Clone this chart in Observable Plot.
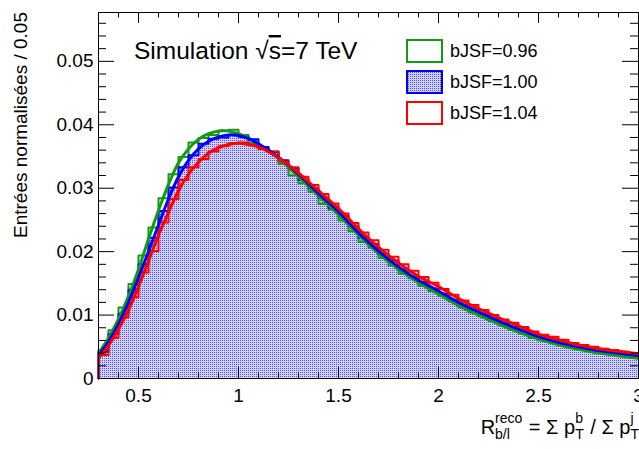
<!DOCTYPE html>
<html><head><meta charset="utf-8">
<script src="https://cdn.jsdelivr.net/npm/d3@7"></script>
<script src="https://cdn.jsdelivr.net/npm/@observablehq/plot@0.6"></script>
<style>
body{margin:0;background:#fff}
svg{display:block}
</style>
</head><body><div id="chart"></div>
<script>
// ---------------- data ----------------
const xRange = [0.3, 3.0];
const binWidth = 0.05;
const seriesNames = ["bJSF=0.96", "bJSF=1.00", "bJSF=1.04"];
const seriesColors = ["#129a12", "#0000ff", "#ff0000"];

// histogram contents, bins of 0.05 from 0.30 to 3.00
const hist096 = [0.0045,0.0076,0.0112,0.0149,0.0194,0.0238,0.0284,0.0322,0.0349,0.0372,
  0.0379,0.0384,0.0391,0.0392,0.0384,0.0371,0.0364,0.0358,0.0338,0.0320,
  0.0308,0.0294,0.0275,0.0266,0.0249,0.0232,0.0215,0.0206,0.0190,0.0178,
  0.0165,0.0158,0.0146,0.0138,0.0130,0.0122,0.0112,0.0104,0.0098,0.0091,
  0.0084,0.0077,0.0071,0.0064,0.0060,0.0057,0.0053,0.0048,0.0046,0.0042,
  0.0040,0.0038,0.0035,0.0033];
const hist100 = [0.0042,0.0070,0.0102,0.0140,0.0180,0.0222,0.0264,0.0301,0.0333,0.0352,
  0.0370,0.0378,0.0380,0.0384,0.0381,0.0377,0.0365,0.0357,0.0344,0.0331,
  0.0313,0.0300,0.0285,0.0269,0.0256,0.0240,0.0222,0.0212,0.0196,0.0186,
  0.0172,0.0161,0.0152,0.0142,0.0134,0.0124,0.0115,0.0108,0.0101,0.0094,
  0.0087,0.0081,0.0075,0.0068,0.0064,0.0060,0.0056,0.0052,0.0049,0.0046,
  0.0043,0.0041,0.0038,0.0036];
const hist104 = [0.0037,0.0064,0.0096,0.0128,0.0167,0.0201,0.0246,0.0283,0.0313,0.0333,
  0.0346,0.0358,0.0366,0.0371,0.0372,0.0368,0.0362,0.0358,0.0342,0.0333,
  0.0318,0.0305,0.0291,0.0276,0.0260,0.0245,0.0230,0.0218,0.0203,0.0192,
  0.0180,0.0170,0.0160,0.0151,0.0141,0.0132,0.0123,0.0116,0.0108,0.0100,
  0.0093,0.0088,0.0081,0.0074,0.0069,0.0066,0.0061,0.0056,0.0053,0.0050,
  0.0047,0.0045,0.0042,0.0040];

// fitted curves, sampled
const fitX = [0.30,0.35,0.40,0.45,0.50,0.55,0.60,0.65,0.70,0.75,0.80,0.85,0.90,0.95,1.00,1.05,1.10,
  1.20,1.30,1.40,1.50,1.60,1.70,1.80,1.90,2.00,2.10,2.20,2.30,2.40,2.50,2.60,2.70,2.80,2.90,3.00];
const fit096 = [0.0040,0.0064,0.0094,0.0130,0.0172,0.0220,0.0265,0.0306,0.0340,0.0362,0.0377,0.0386,0.0390,0.0390,0.0386,0.0379,0.0368,
  0.0347,0.0318,0.0288,0.0258,0.0226,0.0197,0.0172,0.0151,0.0133,0.0115,0.0100,0.0086,0.0073,0.0062,0.0053,0.0046,0.0040,0.0036,0.0032];
const fit100 = [0.0036,0.0058,0.0086,0.0120,0.0159,0.0200,0.0242,0.0283,0.0318,0.0344,0.0362,0.0374,0.0381,0.0384,0.0383,0.0378,0.0370,
  0.0349,0.0322,0.0292,0.0263,0.0230,0.0201,0.0176,0.0155,0.0138,0.0120,0.0105,0.0091,0.0078,0.0066,0.0057,0.0050,0.0044,0.0040,0.0036];
const fit104 = [0.0032,0.0052,0.0078,0.0108,0.0145,0.0185,0.0226,0.0262,0.0296,0.0322,0.0341,0.0355,0.0364,0.0369,0.0371,0.0369,0.0365,
  0.0348,0.0324,0.0296,0.0268,0.0236,0.0207,0.0182,0.0161,0.0145,0.0126,0.0110,0.0096,0.0083,0.0070,0.0061,0.0053,0.0047,0.0043,0.0039];

const xMajorTicks = [0.5, 1, 1.5, 2, 2.5, 3];
const yMajorTicks = [0, 0.01, 0.02, 0.03, 0.04, 0.05];
const yMax = 0.0577;
const yTitle = "Entrées normalisées / 0.05";

// ---------------- layout ----------------
const W = 639, H = 449;
const mL = 98, mR = 1, mT = 12, mB = 71;
const frameH = H - mT - mB;
const font = "'Liberation Sans', Arial, Helvetica, sans-serif";

const xMinorTicks = d3.range(4, 30).map(i => i / 10).filter(v => !xMajorTicks.some(m => Math.abs(m - v) < 1e-9));
const yMinorTicks = d3.range(1, 29).map(i => i * 0.002).filter(v => !yMajorTicks.some(m => Math.abs(m - v) < 1e-9));

function steps(vals) {
  const pts = [{x: xRange[0], y: 0}];
  vals.forEach((v, i) => pts.push({x: xRange[0] + i * binWidth, y: v}));
  pts.push({x: xRange[1], y: vals[vals.length - 1]});
  return pts;
}
const fitPts = arr => arr.map((v, i) => ({x: fitX[i], y: v}));

const hists = [hist096, hist100, hist104].map(steps);
const fits = [fit096, fit100, fit104].map(fitPts);

const chart = Plot.plot({
  width: W, height: H,
  marginLeft: mL, marginRight: mR, marginTop: mT, marginBottom: mB,
  style: {fontFamily: font, background: "white"},
  x: {domain: xRange},
  y: {domain: [0, yMax]},
  marks: [
    Plot.areaY(hists[1], {x: "x", y: "y", curve: "step-after", fill: "url(#dots)"}),
    Plot.line(hists[0], {x: "x", y: "y", curve: "step-after", stroke: seriesColors[0], strokeWidth: 2}),
    Plot.line(hists[1], {x: "x", y: "y", curve: "step-after", stroke: seriesColors[1], strokeWidth: 2}),
    Plot.line(hists[2], {x: "x", y: "y", curve: "step-after", stroke: seriesColors[2], strokeWidth: 2}),
    Plot.line(fits[0], {x: "x", y: "y", curve: "catmull-rom", stroke: seriesColors[0], strokeWidth: 3, clip: true}),
    Plot.line(fits[1], {x: "x", y: "y", curve: "catmull-rom", stroke: seriesColors[1], strokeWidth: 3, clip: true}),
    Plot.line(fits[2], {x: "x", y: "y", curve: "catmull-rom", stroke: seriesColors[2], strokeWidth: 3, clip: true}),
    Plot.frame({stroke: "black", strokeWidth: 1}),
    // inner ticks (ROOT style)
    Plot.tickX(xMajorTicks, {x: d => d, insetTop: frameH - 11, stroke: "black"}),
    Plot.tickX(xMinorTicks, {x: d => d, insetTop: frameH - 5.5, stroke: "black"}),
    Plot.tickX(xMajorTicks, {x: d => d, insetBottom: frameH - 11, stroke: "black"}),
    Plot.tickX(xMinorTicks, {x: d => d, insetBottom: frameH - 5.5, stroke: "black"}),
    Plot.tickY(yMajorTicks, {y: d => d, insetRight: (W - mL - mR) - 16, stroke: "black"}),
    Plot.tickY(yMinorTicks, {y: d => d, insetRight: (W - mL - mR) - 8, stroke: "black"}),
    Plot.tickY(yMajorTicks, {y: d => d, insetLeft: (W - mL - mR) - 16, stroke: "black"}),
    Plot.tickY(yMinorTicks, {y: d => d, insetLeft: (W - mL - mR) - 8, stroke: "black"}),
    Plot.axisX(xMajorTicks, {tickSize: 0, tickPadding: 10, tickFormat: d3.format("~g"), fontSize: 19, label: null, fill: "black"}),
    Plot.axisY(yMajorTicks, {tickSize: 0, tickPadding: 5, tickFormat: d3.format("~g"), fontSize: 19, label: null, fill: "black"})
  ]
});
document.getElementById("chart").appendChild(chart);

// ---------- decorations ----------
const svg = d3.select(chart);
const defs = svg.insert("defs", ":first-child");
const pat = defs.append("pattern").attr("id", "dots").attr("patternUnits", "userSpaceOnUse")
  .attr("width", 2).attr("height", 2);
pat.append("rect").attr("width", 2).attr("height", 2).attr("fill", "#d2d2f8");
pat.append("rect").attr("width", 1).attr("height", 1).attr("fill", "#5050ff");

const deco = svg.append("g").attr("font-family", font).attr("fill", "black").attr("text-anchor", "start");

// Simulation label
const sim = deco.append("text").attr("x", 134).attr("y", 59).attr("font-size", 24.5);
sim.append("tspan").text("Simulation √");
sim.append("tspan").attr("style", "text-decoration: overline").text("s");
sim.append("tspan").text("=7 TeV");

// legend
const legY = [40, 71, 102];
seriesNames.forEach((name, i) => {
  deco.append("rect").attr("x", 407).attr("y", legY[i]).attr("width", 35).attr("height", 22)
    .attr("fill", i === 1 ? "url(#dots)" : "white")
    .attr("stroke", seriesColors[i]).attr("stroke-width", 2);
  deco.append("text").attr("x", 450).attr("y", legY[i] + 17).attr("font-size", 18).text(name);
});

// y title
deco.append("text").attr("transform", "translate(27,12) rotate(-90)")
  .attr("text-anchor", "end").attr("font-size", 19).text(yTitle);

// x title with sub/superscripts
const g = deco.append("g");
const base = 434, fs = 20, fsS = 14;
let cx = 0;
function put(t, dy, size) {
  const el = g.append("text").attr("x", cx).attr("y", base + dy).attr("font-size", size)
    .attr("xml:space", "preserve").style("white-space", "pre").text(t);
  return el.node().getComputedTextLength();
}
function stack(sup, sub) {
  const w1 = put(sup, -11, fsS);
  const w2 = put(sub, 5, fsS);
  cx += Math.max(w1, w2) + 1;
}
cx += put("R", 0, fs); stack("reco", "b/l");
cx += put(" = Σ p", 0, fs); stack("b", "T");
cx += put(" / Σ p", 0, fs); stack("j", "T");
g.attr("transform", `translate(${640 - cx},0)`);
</script>
</body></html>
